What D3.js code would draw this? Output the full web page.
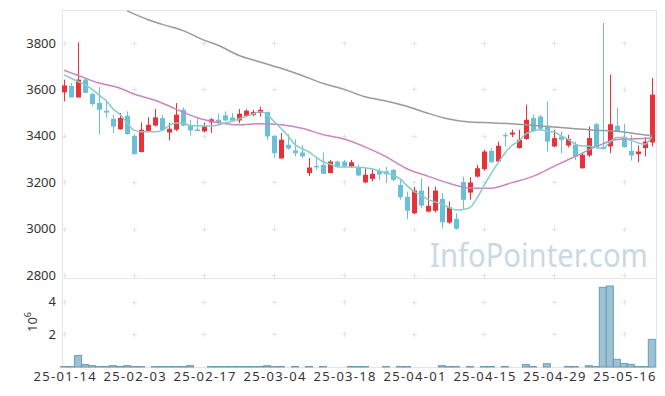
<!DOCTYPE html>
<html lang="en">
<head>
  <meta charset="UTF-8">
  <title>Candlestick with volume</title>
  <script src="https://d3js.org/d3.v7.min.js"></script>
  <style>
    body { margin: 0; background: #fff; }
    svg { display: block; font-family: "Noto Sans", sans-serif; }
  </style>
</head>
<body>
  <svg id="chart" width="665" height="396"></svg>
  <script>
    // trading days shown on the chart (yy-mm-dd)
    const dates = [
      "25-01-14","25-01-15","25-01-16","25-01-17","25-01-20","25-01-21","25-01-22","25-01-23","25-01-24","25-01-31",
      "25-02-03","25-02-04","25-02-05","25-02-06","25-02-07","25-02-10","25-02-11","25-02-12","25-02-13","25-02-14",
      "25-02-17","25-02-18","25-02-19","25-02-20","25-02-21","25-02-24","25-02-25","25-02-26","25-02-27","25-02-28",
      "25-03-04","25-03-05","25-03-06","25-03-07","25-03-10","25-03-11","25-03-12","25-03-13","25-03-14","25-03-17",
      "25-03-18","25-03-19","25-03-20","25-03-21","25-03-24","25-03-25","25-03-26","25-03-27","25-03-28","25-03-31",
      "25-04-01","25-04-02","25-04-03","25-04-04","25-04-07","25-04-08","25-04-09","25-04-10","25-04-11","25-04-14",
      "25-04-15","25-04-16","25-04-17","25-04-18","25-04-21","25-04-22","25-04-23","25-04-24","25-04-25","25-04-28",
      "25-04-29","25-04-30","25-05-02","25-05-07","25-05-08","25-05-09","25-05-12","25-05-13","25-05-14","25-05-15",
      "25-05-16","25-05-19","25-05-20","25-05-21","25-05-22"
    ];

    const open = [3587,3615,3565,3642,3580,3542,3508,3473,3428,3486,
      3400,3330,3421,3444,3476,3414,3426,3512,3444,3427,
      3419,3457,3469,3488,3479,3466,3486,3490,3498,3502,
      3400,3302,3361,3337,3328,3239,3270,3275,3239,3289,
      3289,3267,3263,3199,3214,3249,3247,3253,3188,3137,
      3066,3164,3073,3077,3128,3026,3042,3201,3155,3224,
      3256,3335,3289,3404,3405,3347,3386,3476,3483,3443,
      3354,3397,3358,3361,3260,3315,3450,3352,3354,3443,
      3394,3335,3321,3347,3371];
    const high = [3642,3628,3803,3645,3585,3610,3555,3491,3498,3505,
      3407,3458,3480,3516,3491,3455,3541,3522,3469,3473,
      3457,3476,3495,3505,3498,3515,3515,3512,3526,3505,
      3400,3412,3407,3385,3361,3304,3304,3328,3296,3293,
      3296,3296,3275,3260,3256,3260,3265,3256,3210,3159,
      3181,3217,3181,3181,3153,3116,3066,3224,3222,3275,
      3340,3347,3375,3414,3426,3426,3534,3491,3490,3548,
      3426,3418,3404,3375,3325,3440,3455,3886,3663,3520,
      3452,3404,3358,3393,3649];
    const low = [3548,3565,3565,3585,3530,3405,3478,3412,3426,3405,
      3318,3328,3418,3440,3422,3380,3420,3440,3398,3421,
      3414,3412,3449,3462,3462,3455,3481,3484,3483,3383,
      3304,3302,3340,3311,3305,3227,3253,3236,3239,3262,
      3263,3262,3225,3195,3203,3210,3196,3205,3124,3040,
      3062,3090,3070,3070,3000,3020,2995,3085,3124,3220,
      3250,3283,3285,3354,3394,3345,3383,3418,3425,3332,
      3350,3325,3350,3296,3258,3308,3345,3340,3325,3415,
      3348,3293,3286,3311,3354];
    const close = [3617,3565,3642,3585,3537,3512,3500,3440,3477,3407,
      3321,3426,3447,3479,3424,3430,3491,3444,3423,3421,
      3440,3471,3455,3466,3465,3495,3508,3502,3512,3397,
      3325,3383,3345,3325,3311,3263,3265,3236,3289,3265,
      3268,3286,3229,3232,3236,3233,3234,3210,3135,3077,
      3164,3099,3098,3164,3027,3092,2999,3124,3199,3260,
      3332,3286,3357,3400,3414,3383,3469,3421,3430,3375,
      3390,3383,3386,3311,3318,3390,3347,3343,3450,3418,
      3351,3315,3332,3375,3577];

    // volume, millions of shares
    const volume = [0.03,0.03,0.70,0.15,0.08,0.03,0.03,0.08,0.03,0.08,
      0.03,0.03,0,0.03,0.03,0.03,0.03,0.03,0.08,0,
      0,0.03,0.03,0.03,0.03,0.03,0.03,0.03,0.03,0.08,
      0.03,0.03,0,0.03,0,0.03,0,0.03,0,0,
      0,0.03,0.03,0.03,0,0,0.03,0,0.03,0.03,
      0,0,0,0,0.08,0.03,0.03,0,0.03,0,
      0.03,0.03,0,0.03,0,0,0.15,0.03,0,0.2,
      0,0,0.03,0.03,0,0.08,0.03,4.88,4.96,0.47,
      0.22,0.16,0.03,0.03,1.69];

    // moving averages
    const ma5 = [3663,3648,3634,3620,3600,3575,3552,3516,3492,3455,
      3424,3417,3417,3417,3422,3444,3455,3455,3444,3443,
      3443,3442,3446,3455,3462,3473,3483,3494,3503,3492,
      3462,3432,3400,3362,3344,3330,3308,3288,3278,3268,
      3265,3265,3264,3262,3258,3248,3240,3230,3215,3185,
      3160,3145,3125,3115,3105,3092,3080,3082,3090,3130,
      3185,3235,3282,3325,3358,3378,3408,3420,3426,3420,
      3417,3400,3385,3365,3356,3355,3350,3346,3372,3393,
      3392,3380,3370,3363,3395];
    const ma20Idx = [0,2,5,8,10,13,16,19,22,25,28,31,34,37,40,43,46,49,52,55,58,61,64,67,70,73,76,79,82,84];
    const ma20 = [3682,3660,3627,3605,3580,3553,3515,3478,3457,3447,3452,3447,3432,3405,3386,3352,3310,3258,3226,3195,3175,3174,3198,3225,3268,3310,3352,3384,3387,3390];
    const ma60Idx = [9,12,14,17,20,22,25,28,31,34,37,40,43,46,49,52,55,58,61,64,67,70,73,76,79,82,84];
    const ma60 = [3938,3900,3880,3853,3812,3790,3746,3718,3691,3660,3626,3600,3568,3550,3527,3497,3472,3459,3456,3452,3445,3438,3430,3424,3419,3408,3400];

    const priceTicks = [2800,3000,3200,3400,3600,3800];
    const volTicks = [2,4];
    const dateTickIdx = [0,10,20,30,40,50,60,70,80];

    const svg = d3.select("#chart");
    const padL = 62, padR = 656, padT = 10, padMid = 278, padB = 367;

    const x = d3.scaleLinear().domain([-0.3, 84.6]).range([padL, padR]);
    const y = d3.scaleLinear().domain([2787, 3942]).range([padMid, padT]);
    const yv = d3.scaleLinear().domain([0, 5.45]).range([padB, padMid]);

    svg.append("clipPath").attr("id", "clipP")
      .append("rect").attr("x", padL).attr("y", padT).attr("width", padR - padL).attr("height", padMid - padT);

    // panel frame
    const frame = svg.append("g").attr("stroke", "#e6e6e6").attr("fill", "none");
    frame.append("rect").attr("x", padL + 0.5).attr("y", padT + 0.5).attr("width", padR - padL).attr("height", padB - padT);
    frame.append("line").attr("x1", padL).attr("x2", padR).attr("y1", padMid + 0.5).attr("y2", padMid + 0.5);

    // small crosses at grid intersections
    const cross = svg.append("g").attr("stroke", "#e4e4e4").attr("stroke-width", 1);
    const crossY = priceTicks.map(v => y(v)).concat(volTicks.map(v => yv(v)));
    dateTickIdx.forEach(i => {
      crossY.forEach(cy => {
        const cx = Math.round(x(i)) + 0.5, yy = Math.round(cy) + 0.5;
        cross.append("line").attr("x1", cx - 2.5).attr("x2", cx + 2.5).attr("y1", yy).attr("y2", yy);
        cross.append("line").attr("x1", cx).attr("x2", cx).attr("y1", yy - 2.5).attr("y2", yy + 2.5);
      });
    });

    // watermark, squeezed horizontally to the reference width
    const wm = svg.append("text")
      .attr("font-size", 33).attr("fill", "#c9d9e4")
      .text("InfoPointer.com");
    const wmW = wm.node().getComputedTextLength();
    wm.attr("transform", `translate(430,267) scale(${218 / wmW},1)`);

    // candles
    const idx = d3.range(dates.length);
    const candles = svg.append("g").attr("clip-path", "url(#clipP)");
    const colorOf = i => close[i] >= open[i] ? "#e8323b" : "#6bbfd9";
    candles.selectAll("line.wick").data(idx).join("line")
      .attr("class", "wick")
      .attr("x1", i => Math.round(x(i)) + 0.5).attr("x2", i => Math.round(x(i)) + 0.5)
      .attr("y1", i => y(high[i])).attr("y2", i => y(low[i]))
      .attr("stroke", colorOf).attr("stroke-width", 1);
    candles.selectAll("rect.body").data(idx).join("rect")
      .attr("class", "body")
      .attr("x", i => Math.round(x(i)) - 2)
      .attr("width", 5)
      .attr("y", i => y(Math.max(open[i], close[i])))
      .attr("height", i => Math.max(1.5, Math.abs(y(open[i]) - y(close[i]))))
      .attr("fill", colorOf);

    // moving average lines
    const lines = svg.append("g").attr("clip-path", "url(#clipP)").attr("fill", "none");
    lines.append("path")
      .attr("d", d3.line().x((d, i) => x(ma60Idx[i])).y(d => y(d)).curve(d3.curveMonotoneX)(ma60))
      .attr("stroke", "#9a9a9a").attr("stroke-width", 1.5);
    lines.append("path")
      .attr("d", d3.line().x((d, i) => x(ma20Idx[i])).y(d => y(d)).curve(d3.curveMonotoneX)(ma20))
      .attr("stroke", "#c985c2").attr("stroke-width", 1.5);
    lines.append("path")
      .attr("d", d3.line().x((d, i) => x(i)).y(d => y(d)).curve(d3.curveMonotoneX)(ma5))
      .attr("stroke", "#86cdc3").attr("stroke-width", 1.5);

    // volume bars
    svg.append("g").selectAll("rect").data(idx.filter(i => volume[i] > 0)).join("rect")
      .attr("x", i => x(i) - 3.5)
      .attr("width", 7)
      .attr("y", i => yv(volume[i]))
      .attr("height", i => yv(0) - yv(volume[i]))
      .attr("fill", "#9cc2d4")
      .attr("stroke", "#6a9cb5")
      .attr("stroke-width", 1);

    // axes
    const yAxis = svg.append("g").attr("transform", `translate(${padL},0)`)
      .call(d3.axisLeft(y).tickValues(priceTicks).tickFormat(d3.format("d")).tickSize(0).tickPadding(6));
    const vAxis = svg.append("g").attr("transform", `translate(${padL},0)`)
      .call(d3.axisLeft(yv).tickValues(volTicks).tickFormat(d3.format("d")).tickSize(0).tickPadding(6));
    const xAxis = svg.append("g").attr("transform", `translate(0,${padB})`)
      .call(d3.axisBottom(x).tickValues(dateTickIdx).tickFormat(i => dates[i]).tickSize(0).tickPadding(5));
    [yAxis, vAxis, xAxis].forEach(g => {
      g.select(".domain").remove();
      g.selectAll("text").attr("font-size", 13).attr("fill", "#333").attr("font-family", "Noto Sans, sans-serif");
    });
    xAxis.selectAll("text").attr("textLength", 62).attr("lengthAdjust", "spacing");

    // unit label for volume
    const unit = svg.append("text")
      .attr("transform", "translate(37,332) rotate(-90)")
      .attr("font-size", 13).attr("fill", "#333");
    unit.append("tspan").text("10");
    unit.append("tspan").attr("dy", -6).attr("font-size", 9).text("6");
  </script>
</body>
</html>
